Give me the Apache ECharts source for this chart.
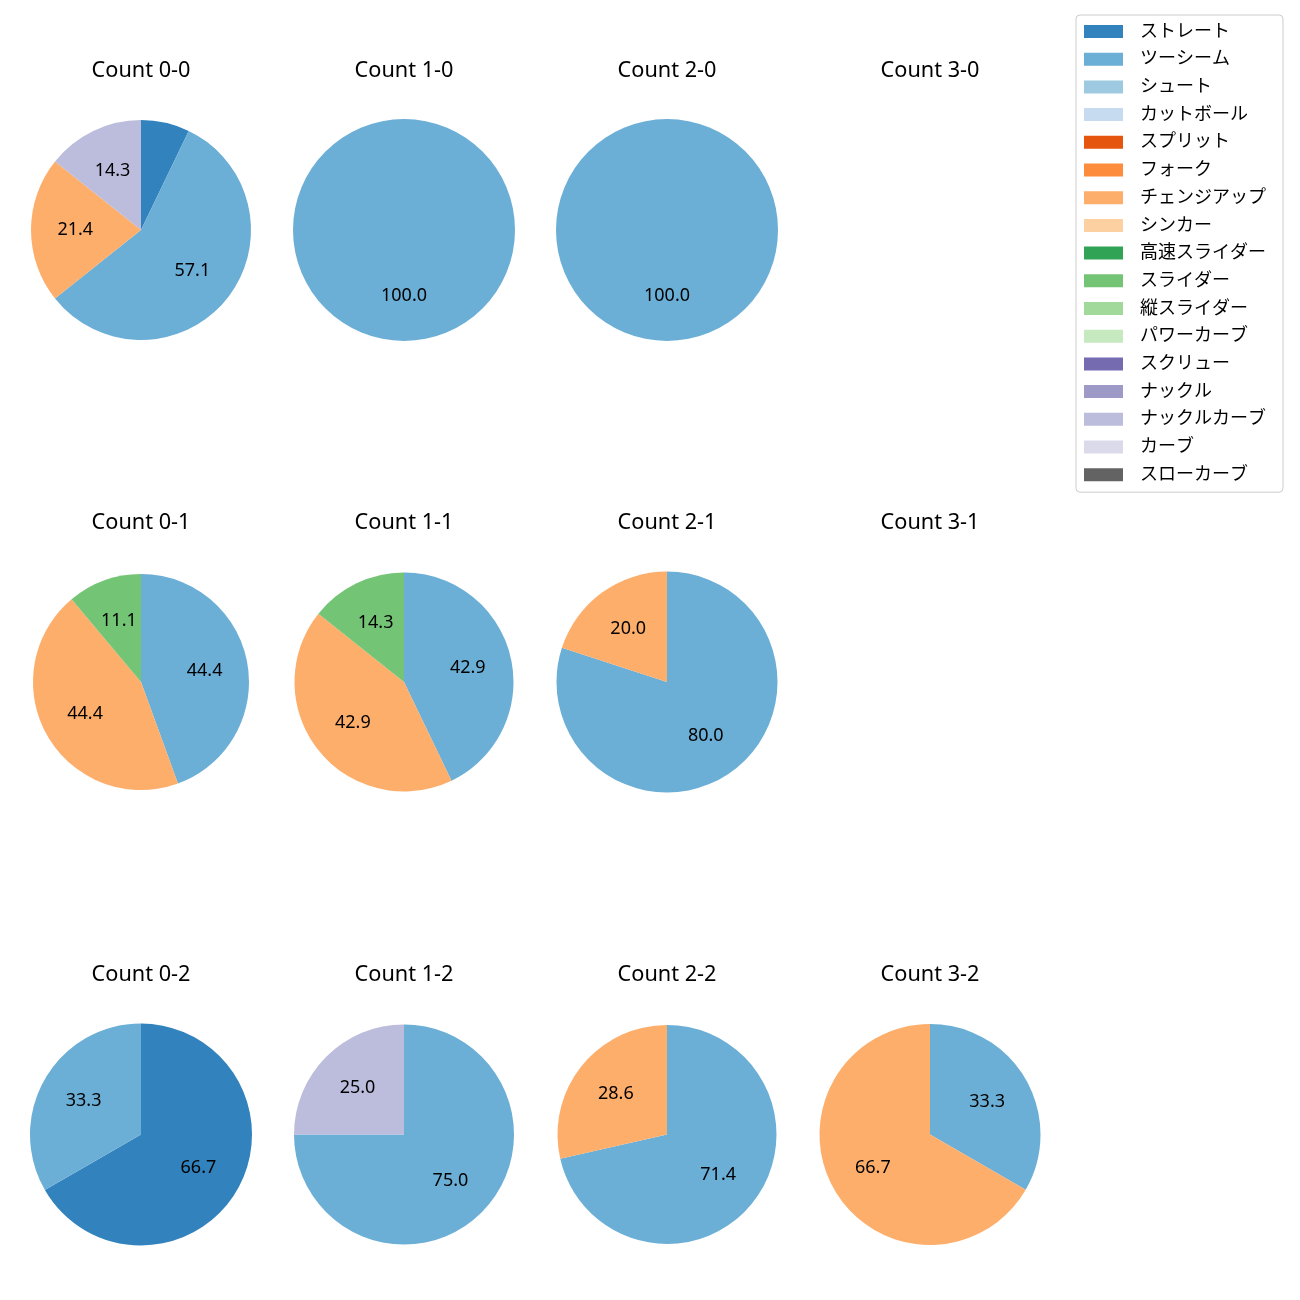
<!DOCTYPE html>
<html><head><meta charset="utf-8">
<script src="https://cdn.jsdelivr.net/npm/echarts@6/dist/echarts.min.js"></script>
<style>html,body{margin:0;padding:0;background:#fff}#c{width:1300px;height:1300px}</style>
</head><body><div id="c"></div>
<script>
const pitchTypes = ['ストレート','ツーシーム','シュート','カットボール','スプリット','フォーク','チェンジアップ','シンカー','高速スライダー','スライダー','縦スライダー','パワーカーブ','スクリュー','ナックル','ナックルカーブ','カーブ','スローカーブ'];
const pitchColors = ['#3182bd','#6baed6','#9ecae1','#c6dbef','#e6550d','#fd8d3c','#fdae6b','#fdd0a2','#31a354','#74c476','#a1d99b','#c7e9c0','#756bb1','#9e9ac8','#bcbddc','#dadaeb','#636363'];

// pitch counts per ball-strike count, in pitchTypes order
const count00 = [1,8,0,0,0,0,3,0,0,0,0,0,0,0,2,0,0];
const count10 = [0,1,0,0,0,0,0,0,0,0,0,0,0,0,0,0,0];
const count20 = [0,1,0,0,0,0,0,0,0,0,0,0,0,0,0,0,0];
const count30 = [0,0,0,0,0,0,0,0,0,0,0,0,0,0,0,0,0];
const count01 = [0,4,0,0,0,0,4,0,0,1,0,0,0,0,0,0,0];
const count11 = [0,3,0,0,0,0,3,0,0,1,0,0,0,0,0,0,0];
const count21 = [0,4,0,0,0,0,1,0,0,0,0,0,0,0,0,0,0];
const count31 = [0,0,0,0,0,0,0,0,0,0,0,0,0,0,0,0,0];
const count02 = [2,1,0,0,0,0,0,0,0,0,0,0,0,0,0,0,0];
const count12 = [0,3,0,0,0,0,0,0,0,0,0,0,0,0,1,0,0];
const count22 = [0,5,0,0,0,0,2,0,0,0,0,0,0,0,0,0,0];
const count32 = [0,1,0,0,0,0,2,0,0,0,0,0,0,0,0,0,0];

const countTitles = ['Count 0-0','Count 1-0','Count 2-0','Count 3-0','Count 0-1','Count 1-1','Count 2-1','Count 3-1','Count 0-2','Count 1-2','Count 2-2','Count 3-2'];
const countData = [count00,count10,count20,count30,count01,count11,count21,count31,count02,count12,count22,count32];

// layout
const colX = [141, 404, 667, 930];
const rowY = [230, 682, 1134.5];
const titleY = [71, 523, 975];
const radii = [110,111,111,110, 108,109.5,110.5,110, 111,110,109.5,110.5];

const FONT = "'Noto Sans', 'Noto Sans CJK JP', sans-serif";

const series = [{
  type: 'pie', radius: 0, center: [-100, -100], silent: true,
  stillShowZeroSum: false, showEmptyCircle: false, label: {show: false},
  data: pitchTypes.map((n, i) => ({name: n, value: 0, itemStyle: {color: pitchColors[i]}}))
}];
const titles = [];

countData.forEach((arr, k) => {
  const col = k % 4, row = Math.floor(k / 4);
  const cx = colX[col], cy = rowY[row], r = radii[k];
  titles.push({
    text: countTitles[k], left: cx, top: titleY[row] - 11, textAlign: 'center', padding: 0,
    textStyle: {fontFamily: FONT, fontSize: 21.7, fontWeight: 'normal', color: '#000', lineHeight: 22}
  });
  const items = [];
  arr.forEach((v, i) => { if (v > 0) items.push({name: pitchTypes[i], value: v, itemStyle: {color: pitchColors[i]}}); });
  if (!items.length) return;
  const total = items.reduce((s, d) => s + d.value, 0);
  series.push({
    type: 'pie', center: [cx, cy], radius: [0, r], startAngle: 90, clockwise: true,
    silent: true, label: {show: false}, labelLine: {show: false}, emphasis: {disabled: true},
    itemStyle: {borderWidth: 0}, showEmptyCircle: false, data: items
  });
  series.push({
    type: 'pie', center: [cx, cy], radius: [0, r * 1.14], startAngle: 90, clockwise: true,
    silent: true, labelLine: {show: false}, emphasis: {disabled: true}, legendHoverLink: false,
    itemStyle: {color: 'rgba(0,0,0,0)', borderWidth: 0},
    label: {
      show: true, position: 'inside', color: '#000', fontFamily: FONT, fontSize: 18,
      formatter: p => { const pct = p.value / total * 100; return pct >= 10 ? pct.toFixed(1) : ''; }
    },
    data: items.map(d => ({value: d.value}))
  });
});

const chart = echarts.init(document.getElementById('c'), null, {renderer: 'canvas'});
chart.setOption({
  animation: false,
  backgroundColor: '#fff',
  title: titles,
  legend: {
    orient: 'vertical', left: 1076, top: 15,
    data: pitchTypes,
    itemWidth: 39, itemHeight: 13, itemGap: 9.7,
    icon: 'rect',
    padding: [7.5, 17, 8.5, 8],
    borderColor: '#cccccc', borderWidth: 1, borderRadius: 4,
    backgroundColor: '#fff',
    textStyle: {fontFamily: FONT, fontSize: 18, color: '#000', padding: [0, 0, 0, 12]},
    selectedMode: false
  },
  series: series
});
</script>
</body></html>
